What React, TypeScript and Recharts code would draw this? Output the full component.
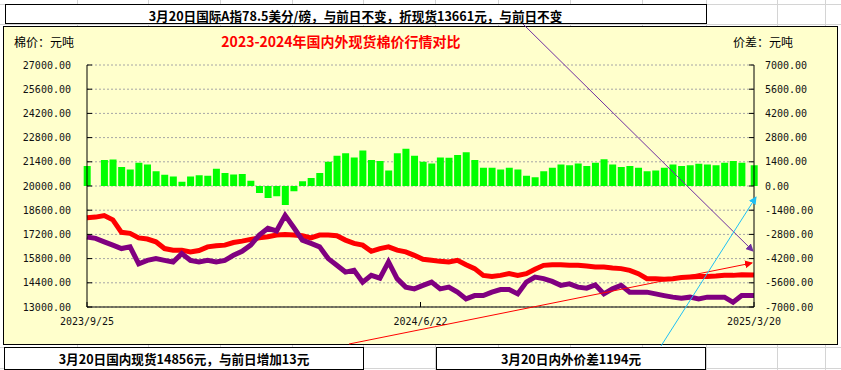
import React from 'react';
import { ComposedChart, Bar, Line, XAxis, YAxis, CartesianGrid } from 'recharts';

// Weekly sample dates (first and last match the axis end labels)
const dates = [
  '2023/9/25', '2023/10/2', '2023/10/9', '2023/10/16', '2023/10/23', '2023/10/30',
  '2023/11/6', '2023/11/13', '2023/11/20', '2023/11/27', '2023/12/4', '2023/12/11',
  '2023/12/18', '2023/12/25', '2024/1/1', '2024/1/8', '2024/1/15', '2024/1/22',
  '2024/1/29', '2024/2/5', '2024/2/12', '2024/2/19', '2024/2/26', '2024/3/4',
  '2024/3/11', '2024/3/18', '2024/3/25', '2024/4/1', '2024/4/8', '2024/4/15',
  '2024/4/22', '2024/4/29', '2024/5/6', '2024/5/13', '2024/5/20', '2024/5/27',
  '2024/6/3', '2024/6/10', '2024/6/17', '2024/6/24', '2024/7/1', '2024/7/8',
  '2024/7/15', '2024/7/22', '2024/7/29', '2024/8/5', '2024/8/12', '2024/8/19',
  '2024/8/26', '2024/9/2', '2024/9/9', '2024/9/16', '2024/9/23', '2024/9/30',
  '2024/10/7', '2024/10/14', '2024/10/21', '2024/10/28', '2024/11/4', '2024/11/11',
  '2024/11/18', '2024/11/25', '2024/12/2', '2024/12/9', '2024/12/16', '2024/12/23',
  '2024/12/30', '2025/1/6', '2025/1/13', '2025/1/20', '2025/1/27', '2025/2/3',
  '2025/2/10', '2025/2/17', '2025/2/24', '2025/3/3', '2025/3/10', '2025/3/20',
];

// 国内现货 (red, left axis)
const domestic = [
  18170, 18200, 18290, 18040, 17320, 17260,
  17000, 16930, 16770, 16380, 16290, 16290,
  16190, 16270, 16480, 16540, 16580, 16730,
  16810, 16910, 17000, 17060, 17160, 17200,
  17160, 17120, 17000, 17160, 17160, 17120,
  16870, 16680, 16580, 16220, 16380, 16480,
  16290, 16190, 15990, 15760, 15700, 15640,
  15600, 15700, 15450, 15220, 14830, 14770,
  14830, 14930, 14830, 14930, 15180, 15410,
  15450, 15450, 15410, 15410, 15370, 15320,
  15320, 15260, 15220, 15120, 14930, 14640,
  14640, 14600, 14640, 14700, 14730, 14770,
  14770, 14790, 14830, 14830, 14870, 14856,
];

// 国际折现货 (purple, left axis)
const international = [
  17050, 16970, 16770, 16580, 16380, 16480,
  15500, 15700, 15800, 15700, 15600, 16090,
  15700, 15600, 15700, 15600, 15700, 15990,
  16220, 16580, 17160, 17550, 17400, 18300,
  17600, 16870, 16680, 16480, 15800, 15410,
  15020, 15120, 14440, 14830, 14670, 15610,
  14640, 14150, 14050, 14250, 14440, 14050,
  14150, 13860, 13470, 13660, 13660, 13860,
  14010, 14010, 13760, 14440, 14730, 14640,
  14480, 14250, 14340, 14150, 14090, 14280,
  13760, 14050, 14250, 13860, 13860, 13860,
  13760, 13660, 13570, 13510, 13570, 13470,
  13570, 13570, 13570, 13270, 13660, 13661,
];

// 内外价差 (green bars, right axis)
const spread = [
  1150, null, 1500, 1540, 1100, 950,
  1350, 1250, 850, 650, 550, 250,
  550, 620, 600, 1000, 750, 660,
  700, 300, -400, -700, -600, -1100,
  -300, 270, 470, 750, 1400, 1750,
  1900, 1650, 2050, 1500, 1450, 900,
  1900, 2150, 1750, 1400, 1300, 1650,
  1630, 1800, 1950, 1500, 1050, 1050,
  950, 1050, 950, 600, 500, 850,
  1050, 1250, 1200, 1300, 1150, 1350,
  1550, 1250, 1100, 1150, 1050, 850,
  900, 1050, 1250, 1150, 1200, 1280,
  1250, 1200, 1340, 1440, 1340, 1194,
];

const leftTicks = [13000, 14400, 15800, 17200, 18600, 20000, 21400, 22800, 24200, 25600, 27000];
const rightTicks = [-7000, -5600, -4200, -2800, -1400, 0, 1400, 2800, 4200, 5600, 7000];
const xTickLabels = ['2023/9/25', '2024/6/22', '2025/3/20'];

const titleText = '2023-2024年国内外现货棉价行情对比';
const leftUnit = '棉价：元吨';
const rightUnit = '价差：元吨';
const topNote = '3月20日国际A指78.5美分/磅，与前日不变，折现货13661元，与前日不变';
const bottomNoteLeft = '3月20日国内现货14856元，与前日增加13元';
const bottomNoteRight = '3月20日内外价差1194元';

const dayOf = (s: string) => {
  const [y, m, d] = s.split('/').map(Number);
  return Date.UTC(y, m - 1, d) / 86400000;
};
const day0 = dayOf(dates[0]);
const data = dates.map((d, i) => ({
  t: dayOf(d) - day0,
  domestic: domestic[i],
  international: international[i],
  spread: spread[i],
}));
const xTicks = xTickLabels.map((s) => dayOf(s) - day0);
const xLabelOf = (v: number) => {
  const i = xTicks.indexOf(v);
  return i >= 0 ? xTickLabels[i] : '';
};

const MONO = '"DejaVu Sans Mono", monospace';
const CJK = '"Noto Sans CJK SC", "Noto Sans", sans-serif';

const LeftTick = (props: any) => {
  const { x, y, payload } = props;
  return (
    <g>
      <line x1={x} x2={x + 5} y1={y} y2={y} stroke="#000" strokeWidth={1} />
      <text x={x - 16} y={y + 3.5} textAnchor="end" fontFamily={MONO} fontSize={10} fill="#111">
        {Number(payload.value).toFixed(2)}
      </text>
    </g>
  );
};

const RightTick = (props: any) => {
  const { x, y, payload } = props;
  return (
    <g>
      <line x1={x} x2={x - 5} y1={y} y2={y} stroke="#000" strokeWidth={1} />
      <text x={x + 11} y={y + 3.5} textAnchor="start" fontFamily={MONO} fontSize={10} fill="#111">
        {Number(payload.value).toFixed(2)}
      </text>
    </g>
  );
};

const BottomTick = (props: any) => {
  const { x, y, payload } = props;
  return (
    <g>
      <line x1={x} x2={x} y1={y} y2={y - 5} stroke="#000" strokeWidth={1} />
      <text x={x} y={y + 17.5} textAnchor="middle" fontFamily={MONO} fontSize={10} fill="#111">
        {xLabelOf(payload.value)}
      </text>
    </g>
  );
};

const sheetCols = [77, 148, 220, 292, 363, 435, 498, 570, 642, 706, 777, 825];
const sheetRows = [4, 24, 347, 368];

export default function App() {
  return (
    <div
      style={{
        position: 'absolute',
        left: 0,
        top: 0,
        width: 841,
        height: 370,
        background: '#fff',
        overflow: 'hidden',
      }}
    >
      {/* spreadsheet cell grid */}
      <svg width={841} height={370} style={{ position: 'absolute', left: 0, top: 0 }}>
        {sheetCols.map((c) => (
          <line key={'c' + c} x1={c + 0.5} x2={c + 0.5} y1={0} y2={370} stroke="#D4D4D4" />
        ))}
        {sheetRows.map((r) => (
          <line key={'r' + r} x1={0} x2={841} y1={r + 0.5} y2={r + 0.5} stroke="#D4D4D4" />
        ))}
      </svg>

      {/* chart area */}
      <div
        style={{
          position: 'absolute',
          left: 3,
          top: 26,
          width: 833,
          height: 317,
          background: '#FFFFCC',
          border: '1px solid #000',
        }}
      />

      <div style={{ position: 'absolute', left: 0, top: 0 }}>
        <ComposedChart
          width={841}
          height={370}
          data={data}
          margin={{ top: 65, right: 7, bottom: 33, left: 7 }}
        >
          <CartesianGrid
            yAxisId="left"
            vertical={false}
            stroke="#A6A6A6"
            strokeDasharray="2 2"
          />
          <XAxis
            dataKey="t"
            type="number"
            domain={[0, xTicks[2]]}
            ticks={xTicks}
            interval={0}
            height={30}
            tickSize={0}
            tickMargin={0}
            tickLine={false}
            axisLine={{ stroke: '#000', strokeWidth: 1 }}
            tick={<BottomTick />}
          />
          <YAxis
            yAxisId="left"
            orientation="left"
            width={80}
            domain={[13000, 27000]}
            ticks={leftTicks}
            interval={0}
            allowDataOverflow
            tickSize={0}
            tickMargin={0}
            tickLine={false}
            axisLine={{ stroke: '#000', strokeWidth: 1 }}
            tick={<LeftTick />}
          />
          <YAxis
            yAxisId="right"
            orientation="right"
            width={80}
            domain={[-7000, 7000]}
            ticks={rightTicks}
            interval={0}
            allowDataOverflow
            tickSize={0}
            tickMargin={0}
            tickLine={false}
            axisLine={{ stroke: '#000', strokeWidth: 1 }}
            tick={<RightTick />}
          />
          <Bar
            yAxisId="right"
            dataKey="spread"
            fill="#00FF00"
            barSize={7}
            isAnimationActive={false}
          />
          <Line
            yAxisId="left"
            dataKey="domestic"
            type="linear"
            stroke="#FF0000"
            strokeWidth={5}
            dot={false}
            activeDot={false}
            isAnimationActive={false}
          />
          <Line
            yAxisId="left"
            dataKey="international"
            type="linear"
            stroke="#800080"
            strokeWidth={5}
            dot={false}
            activeDot={false}
            isAnimationActive={false}
          />
        </ComposedChart>
      </div>

      {/* texts, note boxes and callout arrows */}
      <svg width={841} height={370} style={{ position: 'absolute', left: 0, top: 0 }}>
        <defs>
          <marker id="ahPurple" markerWidth="8" markerHeight="8" refX="7" refY="4" orient="auto" markerUnits="userSpaceOnUse">
            <path d="M0,0 L8,4 L0,8 Z" fill="#7030A0" />
          </marker>
          <marker id="ahRed" markerWidth="8" markerHeight="8" refX="7" refY="4" orient="auto" markerUnits="userSpaceOnUse">
            <path d="M0,0 L8,4 L0,8 Z" fill="#FF0000" />
          </marker>
          <marker id="ahCyan" markerWidth="8" markerHeight="8" refX="7" refY="4" orient="auto" markerUnits="userSpaceOnUse">
            <path d="M0,0 L8,4 L0,8 Z" fill="#1EBFF5" />
          </marker>
        </defs>

        <text x={14} y={46.5} fontFamily={CJK} fontSize={12} fill="#000">{leftUnit}</text>
        <text x={733} y={46.5} fontFamily={CJK} fontSize={12} fill="#000">{rightUnit}</text>
        <text x={341} y={47} textAnchor="middle" fontFamily={CJK} fontSize={14} fontWeight="bold" fill="#FF0000">
          {titleText}
        </text>

        <rect x={5.5} y={4.5} width={701} height={19} fill="#fff" stroke="#000" />
        <text x={355.5} y={21} textAnchor="middle" fontFamily={CJK} fontSize={12.6} fontWeight="bold" fill="#000">
          {topNote}
        </text>

        <rect x={4.5} y={347.5} width={359} height={22} fill="#fff" stroke="#000" />
        <text x={184} y={364} textAnchor="middle" fontFamily={CJK} fontSize={12.6} fontWeight="bold" fill="#000">
          {bottomNoteLeft}
        </text>

        <rect x={436.5} y={347.5} width={269} height={22} fill="#fff" stroke="#000" />
        <text x={571} y={364} textAnchor="middle" fontFamily={CJK} fontSize={12.6} fontWeight="bold" fill="#000">
          {bottomNoteRight}
        </text>

        <line x1={523} y1={24} x2={753} y2={251} stroke="#7030A0" strokeWidth={1} markerEnd="url(#ahPurple)" />
        <line x1={349} y1={344} x2={752} y2={263} stroke="#FF0000" strokeWidth={1} markerEnd="url(#ahRed)" />
        <line x1={661} y1={346} x2={756} y2={197} stroke="#1EBFF5" strokeWidth={1} markerEnd="url(#ahCyan)" />
      </svg>
    </div>
  );
}
